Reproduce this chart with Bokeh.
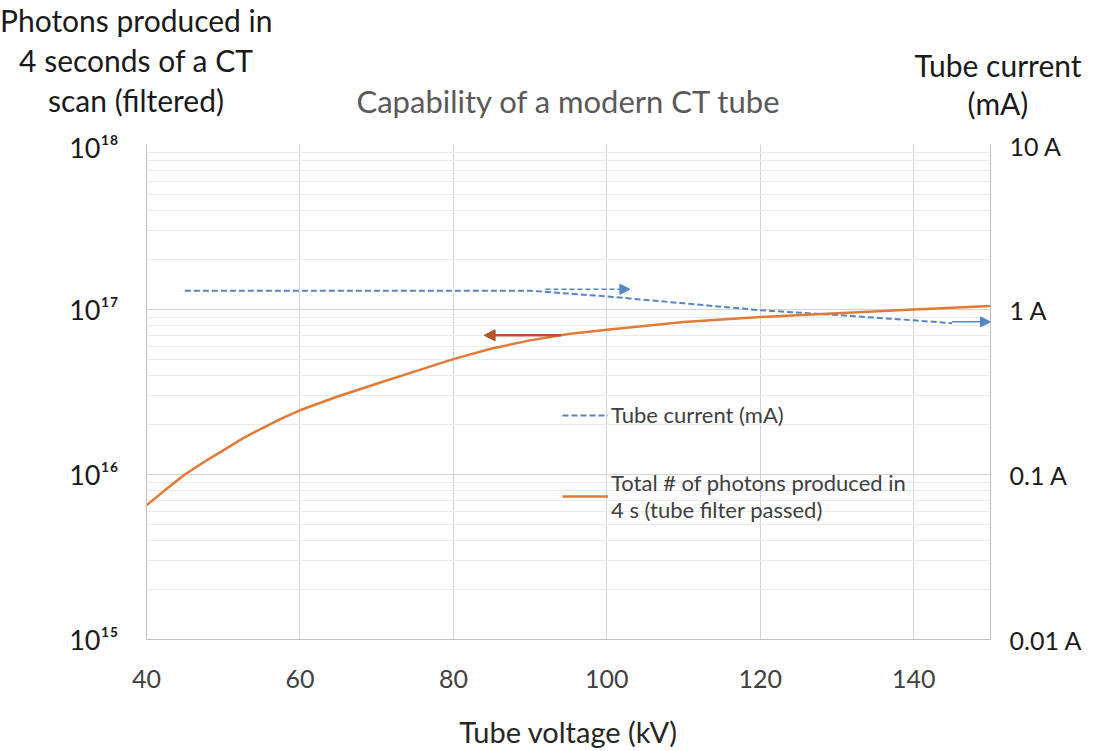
import numpy as np
from bokeh.plotting import figure
from bokeh.layouts import column
from bokeh.models import (Range1d, LogAxis, LogScale, LogTicker, SingleIntervalTicker,
                          CustomJSTickFormatter, Arrow, NormalHead, Legend, LegendItem, Div)
from bokeh.embed import file_html
from bokeh.resources import INLINE

# ---------------- data ----------------
kv_photons = [40, 42.5, 45, 47.5, 50, 52.5, 55, 57.5, 60, 65, 70, 75, 80, 85, 90, 95, 100,
              110, 120, 130, 140, 150]
photons = [6.5e15, 8.1e15, 1.0e16, 1.19e16, 1.4e16, 1.65e16, 1.9e16, 2.17e16, 2.45e16,
           2.98e16, 3.55e16, 4.22e16, 5.0e16, 5.8e16, 6.5e16, 7.1e16, 7.55e16,
           8.4e16, 9.0e16, 9.5e16, 1.0e17, 1.05e17]

kv_current = [45, 50, 60, 70, 80, 90, 100, 110, 120, 130, 140, 145]
current_mA = [1300, 1300, 1300, 1300, 1300, 1300, 1200, 1090, 990, 925, 860, 825]

x_ticks_interval = 20
right_labels_unit = "A"

title_text = "Capability of a modern CT tube"
left_title_lines = ["Photons produced in", "4 seconds of a CT", "scan (filtered)"]
right_title_lines = ["Tube current", "(mA)"]
x_title = "Tube voltage (kV)"
legend_current = "Tube current (mA)"
legend_photons = "Total # of photons produced in\n4 s (tube filter passed)"

# ---------------- styling ----------------
FONT = "Lato"
BLUE = "#5585c4"
ORANGE = "#e27a35"
BROWN = "#b5532a"
W = 1093
TOP_H = 130
H = 751

# ---- header strip: axis titles and chart title ----
header_html = f"""
<div style="position:relative;width:{W}px;height:{TOP_H}px;overflow:hidden;font-family:Lato,sans-serif;">
  <div style="position:absolute;left:0px;top:0px;width:272px;text-align:center;white-space:nowrap;
              font-size:30px;line-height:40px;color:#1a1a1a;">{'<br>'.join(left_title_lines)}</div>
  <div style="position:absolute;left:903px;top:46px;width:190px;text-align:center;white-space:nowrap;
              font-size:30px;line-height:38px;color:#1a1a1a;">{'<br>'.join(right_title_lines)}</div>
  <div style="position:absolute;left:268px;top:83px;width:600px;text-align:center;white-space:nowrap;
              font-size:31px;line-height:36px;color:#595959;">{title_text}</div>
</div>
"""
header = Div(text=header_html, width=W, height=TOP_H, margin=0)

# ---- main chart ----
p = figure(width=W, height=H - TOP_H, x_range=Range1d(40, 150), y_range=Range1d(1e15, 1e18),
           y_axis_type="log", output_backend="svg", toolbar_location=None,
           min_border_left=146, min_border_right=103, min_border_top=14, min_border_bottom=110,
           margin=0)
p.outline_line_color = None
p.background_fill_color = "white"
p.border_fill_color = "white"

# x axis
p.xaxis.ticker = SingleIntervalTicker(interval=x_ticks_interval)
p.xgrid.ticker = SingleIntervalTicker(interval=x_ticks_interval)
p.xaxis.axis_line_color = "#bfbfbf"
p.xaxis.major_tick_line_color = None
p.xaxis.minor_tick_line_color = None
p.xaxis.major_label_text_font = FONT
p.xaxis.major_label_text_font_size = "25px"
p.xaxis.major_label_text_color = "#404040"
p.xaxis.major_label_standoff = 24
p.xaxis.axis_label = x_title
p.xaxis.axis_label_text_font = FONT
p.xaxis.axis_label_text_font_size = "29px"
p.xaxis.axis_label_text_font_style = "normal"
p.xaxis.axis_label_text_color = "#262626"
p.xaxis.axis_label_standoff = 23

# left axis
sup_code = """
const sup = {'0':'\u2070','1':'\u00b9','2':'\u00b2','3':'\u00b3','4':'\u2074','5':'\u2075','6':'\u2076','7':'\u2077','8':'\u2078','9':'\u2079'};
const e = Math.round(Math.log10(tick));
return '10' + String(e).split('').map(c => sup[c]).join('');
"""
p.yaxis.ticker = LogTicker(num_minor_ticks=10)
p.yaxis.formatter = CustomJSTickFormatter(code=sup_code)
p.yaxis.axis_line_color = "#bfbfbf"
p.yaxis.major_tick_line_color = None
p.yaxis.minor_tick_line_color = None
p.yaxis.major_label_text_font = FONT
p.yaxis.major_label_text_font_size = "27px"
p.yaxis.major_label_text_color = "#1a1a1a"
p.yaxis.major_label_standoff = 22

p.ygrid.ticker = LogTicker(num_minor_ticks=10)
p.ygrid.grid_line_color = "#d4d4d4"
p.ygrid.minor_grid_line_color = "#ebebeb"
p.xgrid.grid_line_color = "#d4d4d4"

# right axis (mA)
p.extra_y_ranges = {"mA": Range1d(10, 10000)}
p.extra_y_scales = {"mA": LogScale()}
right = LogAxis(y_range_name="mA", ticker=LogTicker(),
                formatter=CustomJSTickFormatter(code="return (tick/1000) + ' %s';" % right_labels_unit))
right.axis_line_color = "#bfbfbf"
right.major_tick_line_color = None
right.minor_tick_line_color = None
right.major_label_text_font = FONT
right.major_label_text_font_size = "25px"
right.major_label_text_color = "#1a1a1a"
right.major_label_standoff = 13
p.add_layout(right, "right")

# series
r_cur = p.line(kv_current, current_mA, y_range_name="mA", line_color=BLUE, line_width=2,
               line_dash="6 3")
r_ph = p.line(kv_photons, photons, line_color=ORANGE, line_width=2.5)

# arrows indicating which axis each series belongs to
y_ph_arrow = 10 ** np.interp(94, kv_photons, np.log10(photons))
p.add_layout(Arrow(end=NormalHead(size=11, fill_color=BROWN, line_color=BROWN),
                   x_start=94, y_start=y_ph_arrow, x_end=84, y_end=y_ph_arrow,
                   line_color=BROWN, line_width=2.5))
p.add_layout(Arrow(end=NormalHead(size=10, fill_color=BLUE, line_color=BLUE),
                   x_start=92, y_start=current_mA[0] * 1.02, x_end=103, y_end=current_mA[0] * 1.02,
                   y_range_name="mA", line_color=BLUE, line_width=1.5, line_dash="5 3"))
p.add_layout(Arrow(end=NormalHead(size=10, fill_color=BLUE, line_color=BLUE),
                   x_start=kv_current[-1], y_start=current_mA[-1] * 1.02,
                   x_end=150, y_end=current_mA[-1] * 1.02,
                   y_range_name="mA", line_color=BLUE, line_width=1.5))

# legend
legend = Legend(items=[LegendItem(label=legend_current, renderers=[r_cur]),
                       LegendItem(label=legend_photons, renderers=[r_ph])],
                location=(416, 116), orientation="vertical")
legend.border_line_color = None
legend.background_fill_alpha = 0
legend.padding = 0
legend.margin = 0
legend.glyph_width = 46
legend.label_standoff = 3
legend.spacing = 41
legend.label_text_font = FONT
legend.label_text_font_size = "22px"
legend.label_text_color = "#404040"
p.add_layout(legend)

layout = column(header, p, spacing=0)
open("out.html", "w").write(file_html(layout, INLINE))
